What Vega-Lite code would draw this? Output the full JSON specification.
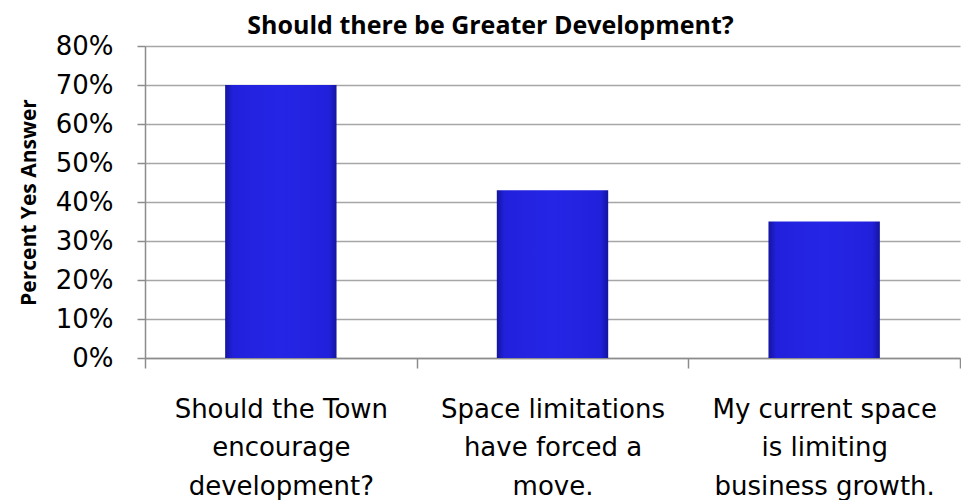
{
  "$schema": "https://vega.github.io/schema/vega-lite/v6.json",
  "autosize": "none",
  "padding": {"left": 145, "top": 46, "right": 1, "bottom": 142},
  "width": 815,
  "height": 312,
  "background": "white",
  "config": {
    "view": {"stroke": null},
    "axis": {"gridColor": "#a6a6a6", "gridWidth": 1.3, "domainColor": "#8c8c8c", "tickColor": "#8c8c8c", "domainWidth": 1.5, "tickWidth": 1.5}
  },
  "title": {
    "text": "Should there be Greater Development?",
    "font": "Open Sans",
    "fontSize": 25,
    "fontWeight": "bold",
    "color": "black",
    "anchor": "middle",
    "frame": "group",
    "dx": -62,
    "offset": -6
  },
  "data": {
    "values": [
      {"question": "Should the Town|encourage|development?", "pct": 0.70},
      {"question": "Space limitations|have forced a|move.", "pct": 0.43},
      {"question": "My current space|is limiting|business growth.", "pct": 0.35}
    ]
  },
  "mark": {
    "type": "bar",
    "width": {"band": 0.41},
    "color": {
      "gradient": "linear",
      "x1": 0, "x2": 1, "y1": 0, "y2": 0,
      "stops": [
        {"offset": 0, "color": "#1414a0"},
        {"offset": 0.07, "color": "#2121dc"},
        {"offset": 0.5, "color": "#2525e6"},
        {"offset": 0.93, "color": "#2121dc"},
        {"offset": 1, "color": "#1414a0"}
      ]
    }
  },
  "encoding": {
    "x": {
      "field": "question",
      "type": "nominal",
      "sort": null,
      "scale": {"paddingInner": 0, "paddingOuter": 0},
      "axis": {
        "title": null,
        "labelAngle": 0,
        "labelExpr": "isString(datum.value) ? split(datum.value, '|') : ''",
        "labelFont": "DejaVu Sans",
        "labelFontSize": 26,
        "labelLineHeight": 38.5,
        "labelLimit": 0,
        "labelColor": "black",
        "labelPadding": 28,
        "labelBaseline": "top",
        "tickBand": "extent",
        "tickSize": 10,
        "grid": false
      }
    },
    "y": {
      "field": "pct",
      "type": "quantitative",
      "scale": {"domain": [0, 0.8], "nice": false},
      "axis": {
        "title": "Percent Yes Answer",
        "titleFont": "Open Sans",
        "titleFontSize": 21,
        "titleFontWeight": "bold",
        "titleColor": "black",
        "titlePadding": 16,
        "values": [0, 0.1, 0.2, 0.3, 0.4, 0.5, 0.6, 0.7, 0.8],
        "format": ".0%",
        "labelFont": "DejaVu Sans",
        "labelFontSize": 26,
        "labelColor": "black",
        "labelPadding": 24,
        "tickSize": 8,
        "grid": true,
        "gridWidth": 1.3
      }
    }
  }
}
